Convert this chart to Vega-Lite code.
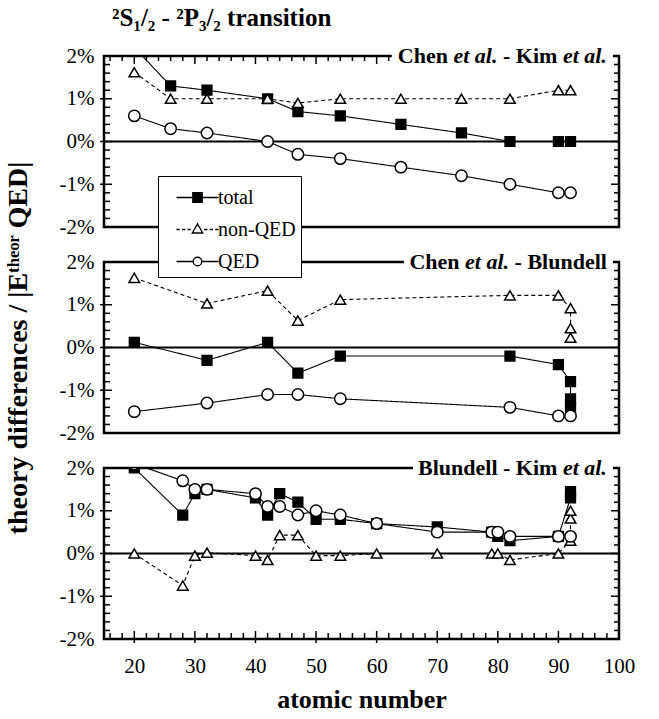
{
  "$schema": "https://vega.github.io/schema/vega-lite/v6.json",
  "background": "white",
  "padding": {"left": 2, "top": 4, "right": 5, "bottom": 5},
  "autosize": {"type": "pad"},
  "bounds": "flush",
  "spacing": 35,
  "config": {
    "view": {"stroke": "black", "strokeWidth": 2.5},
    "font": "Liberation Serif",
    "tick": {"opacity": 1, "color": "black", "thickness": 1.5},
    "rect": {"color": "white", "opacity": 1},
    "text": {"font": "Liberation Serif", "fontSize": 22, "fontWeight": "bold", "baseline": "middle", "align": "right", "color": "black"},
    "axis": {"domain": false, "grid": false, "ticks": false, "labelColor": "black", "labelFont": "Liberation Serif", "labelFontSize": 21, "titleFont": "Liberation Serif", "titleFontWeight": "bold", "titleColor": "black", "labelOverlap": false, "labelFlush": false, "labelBound": false}
  },
  "resolve": {"legend": {"shape": "independent"}},
  "datasets": {
    "ymin": [{"v":-1.8},{"v":-1.6},{"v":-1.4},{"v":-1.2},{"v":-0.8},{"v":-0.6},{"v":-0.4},{"v":-0.2},{"v":0.2},{"v":0.4},{"v":0.6},{"v":0.8},{"v":1.2},{"v":1.4},{"v":1.6},{"v":1.8}],
    "ymaj": [{"v":-1},{"v":0},{"v":1}],
    "xmin": [{"v":16},{"v":18},{"v":22},{"v":24},{"v":26},{"v":28},{"v":32},{"v":34},{"v":36},{"v":38},{"v":42},{"v":44},{"v":46},{"v":48},{"v":52},{"v":54},{"v":56},{"v":58},{"v":62},{"v":64},{"v":66},{"v":68},{"v":72},{"v":74},{"v":76},{"v":78},{"v":82},{"v":84},{"v":86},{"v":88},{"v":92},{"v":94},{"v":96},{"v":98}],
    "xmaj": [{"v":20},{"v":30},{"v":40},{"v":50},{"v":60},{"v":70},{"v":80},{"v":90}],
    "d": [
      {"p":1,"s":"total","z":20,"v":2.2,"i":1},{"p":1,"s":"total","z":26,"v":1.3,"i":2},{"p":1,"s":"total","z":32,"v":1.2,"i":3},{"p":1,"s":"total","z":42,"v":1.0,"i":4},{"p":1,"s":"total","z":47,"v":0.7,"i":5},{"p":1,"s":"total","z":54,"v":0.6,"i":6},{"p":1,"s":"total","z":64,"v":0.4,"i":7},{"p":1,"s":"total","z":74,"v":0.2,"i":8},{"p":1,"s":"total","z":82,"v":0.0,"i":9},{"p":1,"s":"total","z":90,"v":0.0,"i":10},{"p":1,"s":"total","z":92,"v":0.0,"i":11},
      {"p":1,"s":"non-QED","z":20,"v":1.62,"i":1},{"p":1,"s":"non-QED","z":26,"v":1.0,"i":2},{"p":1,"s":"non-QED","z":32,"v":1.0,"i":3},{"p":1,"s":"non-QED","z":42,"v":1.0,"i":4},{"p":1,"s":"non-QED","z":47,"v":0.9,"i":5},{"p":1,"s":"non-QED","z":54,"v":1.0,"i":6},{"p":1,"s":"non-QED","z":64,"v":1.0,"i":7},{"p":1,"s":"non-QED","z":74,"v":1.0,"i":8},{"p":1,"s":"non-QED","z":82,"v":1.0,"i":9},{"p":1,"s":"non-QED","z":90,"v":1.2,"i":10},{"p":1,"s":"non-QED","z":92,"v":1.2,"i":11},
      {"p":1,"s":"QED","z":20,"v":0.6,"i":1},{"p":1,"s":"QED","z":26,"v":0.3,"i":2},{"p":1,"s":"QED","z":32,"v":0.2,"i":3},{"p":1,"s":"QED","z":42,"v":0.0,"i":4},{"p":1,"s":"QED","z":47,"v":-0.3,"i":5},{"p":1,"s":"QED","z":54,"v":-0.4,"i":6},{"p":1,"s":"QED","z":64,"v":-0.6,"i":7},{"p":1,"s":"QED","z":74,"v":-0.8,"i":8},{"p":1,"s":"QED","z":82,"v":-1.0,"i":9},{"p":1,"s":"QED","z":90,"v":-1.2,"i":10},{"p":1,"s":"QED","z":92,"v":-1.2,"i":11},

      {"p":2,"s":"total","z":20,"v":0.12,"i":1},{"p":2,"s":"total","z":32,"v":-0.3,"i":2},{"p":2,"s":"total","z":42,"v":0.12,"i":3},{"p":2,"s":"total","z":47,"v":-0.6,"i":4},{"p":2,"s":"total","z":54,"v":-0.2,"i":5},{"p":2,"s":"total","z":82,"v":-0.2,"i":6},{"p":2,"s":"total","z":90,"v":-0.4,"i":7},{"p":2,"s":"total","z":92,"v":-0.8,"i":8},{"p":2,"s":"total","z":92,"v":-1.2,"i":9},{"p":2,"s":"total","z":92,"v":-1.4,"i":10},
      {"p":2,"s":"non-QED","z":20,"v":1.63,"i":1},{"p":2,"s":"non-QED","z":32,"v":1.03,"i":2},{"p":2,"s":"non-QED","z":42,"v":1.33,"i":3},{"p":2,"s":"non-QED","z":47,"v":0.63,"i":4},{"p":2,"s":"non-QED","z":54,"v":1.12,"i":5},{"p":2,"s":"non-QED","z":82,"v":1.22,"i":6},{"p":2,"s":"non-QED","z":90,"v":1.22,"i":7},{"p":2,"s":"non-QED","z":92,"v":0.92,"i":8},{"p":2,"s":"non-QED","z":92,"v":0.45,"i":9},{"p":2,"s":"non-QED","z":92,"v":0.23,"i":10},
      {"p":2,"s":"QED","z":20,"v":-1.5,"i":1},{"p":2,"s":"QED","z":32,"v":-1.3,"i":2},{"p":2,"s":"QED","z":42,"v":-1.1,"i":3},{"p":2,"s":"QED","z":47,"v":-1.1,"i":4},{"p":2,"s":"QED","z":54,"v":-1.2,"i":5},{"p":2,"s":"QED","z":82,"v":-1.4,"i":6},{"p":2,"s":"QED","z":90,"v":-1.6,"i":7},{"p":2,"s":"QED","z":92,"v":-1.6,"i":8},

      {"p":3,"s":"total","z":20,"v":2.0,"i":1},{"p":3,"s":"total","z":28,"v":0.9,"i":2},{"p":3,"s":"total","z":30,"v":1.4,"i":3},{"p":3,"s":"total","z":32,"v":1.5,"i":4},{"p":3,"s":"total","z":40,"v":1.3,"i":5},{"p":3,"s":"total","z":42,"v":0.9,"i":6},{"p":3,"s":"total","z":44,"v":1.4,"i":7},{"p":3,"s":"total","z":47,"v":1.2,"i":8},{"p":3,"s":"total","z":50,"v":0.8,"i":9},{"p":3,"s":"total","z":54,"v":0.8,"i":10},{"p":3,"s":"total","z":60,"v":0.7,"i":11},{"p":3,"s":"total","z":70,"v":0.62,"i":12},{"p":3,"s":"total","z":79,"v":0.5,"i":13},{"p":3,"s":"total","z":80,"v":0.4,"i":14},{"p":3,"s":"total","z":82,"v":0.3,"i":15},{"p":3,"s":"total","z":90,"v":0.4,"i":16},{"p":3,"s":"total","z":92,"v":1.3,"i":17},{"p":3,"s":"total","z":92,"v":1.45,"i":18},
      {"p":3,"s":"non-QED","z":20,"v":0.0,"i":1},{"p":3,"s":"non-QED","z":28,"v":-0.75,"i":2},{"p":3,"s":"non-QED","z":30,"v":-0.05,"i":3},{"p":3,"s":"non-QED","z":32,"v":0.02,"i":4},{"p":3,"s":"non-QED","z":40,"v":-0.05,"i":5},{"p":3,"s":"non-QED","z":42,"v":-0.15,"i":6},{"p":3,"s":"non-QED","z":44,"v":0.43,"i":7},{"p":3,"s":"non-QED","z":47,"v":0.43,"i":8},{"p":3,"s":"non-QED","z":50,"v":-0.05,"i":9},{"p":3,"s":"non-QED","z":54,"v":-0.05,"i":10},{"p":3,"s":"non-QED","z":60,"v":0.0,"i":11},{"p":3,"s":"non-QED","z":70,"v":0.0,"i":12},{"p":3,"s":"non-QED","z":79,"v":0.0,"i":13},{"p":3,"s":"non-QED","z":80,"v":0.0,"i":14},{"p":3,"s":"non-QED","z":82,"v":-0.15,"i":15},{"p":3,"s":"non-QED","z":90,"v":0.0,"i":16},{"p":3,"s":"non-QED","z":92,"v":0.3,"i":17},{"p":3,"s":"non-QED","z":92,"v":0.82,"i":18},{"p":3,"s":"non-QED","z":92,"v":1.0,"i":19},
      {"p":3,"s":"QED","z":20,"v":2.1,"i":1},{"p":3,"s":"QED","z":28,"v":1.7,"i":2},{"p":3,"s":"QED","z":30,"v":1.5,"i":3},{"p":3,"s":"QED","z":32,"v":1.5,"i":4},{"p":3,"s":"QED","z":40,"v":1.4,"i":5},{"p":3,"s":"QED","z":42,"v":1.1,"i":6},{"p":3,"s":"QED","z":44,"v":1.1,"i":7},{"p":3,"s":"QED","z":47,"v":0.9,"i":8},{"p":3,"s":"QED","z":50,"v":1.0,"i":9},{"p":3,"s":"QED","z":54,"v":0.9,"i":10},{"p":3,"s":"QED","z":60,"v":0.7,"i":11},{"p":3,"s":"QED","z":70,"v":0.5,"i":12},{"p":3,"s":"QED","z":79,"v":0.5,"i":13},{"p":3,"s":"QED","z":80,"v":0.5,"i":14},{"p":3,"s":"QED","z":82,"v":0.4,"i":15},{"p":3,"s":"QED","z":90,"v":0.4,"i":16},{"p":3,"s":"QED","z":92,"v":0.4,"i":17}
    ]
  },
  "vconcat": [
    {
      "width": 515, "height": 171,
      "title": {"text": "²S₁/₂ - ²P₃/₂ transition", "anchor": "start", "frame": "group", "font": "Liberation Serif", "fontSize": 25, "fontWeight": "bold", "color": "black", "offset": 14, "dx": 8},
      "layer": [
        {"data": {"values": [{"r": 0}]}, "mark": {"type": "rule", "color": "black", "strokeWidth": 2.2}, "encoding": {"y": {"field": "r", "type": "quantitative", "axis": null}}},
        {"data": {"name": "ymin"}, "mark": {"type": "tick", "orient": "horizontal", "size": 6, "xOffset": 3}, "encoding": {"x": {"datum": 15, "type": "quantitative", "axis": null}, "y": {"field": "v", "type": "quantitative", "axis": null}}},
        {"data": {"name": "ymaj"}, "mark": {"type": "tick", "orient": "horizontal", "size": 12, "xOffset": 2}, "encoding": {"x": {"datum": 15, "type": "quantitative", "axis": null}, "y": {"field": "v", "type": "quantitative", "axis": null}}},
        {"data": {"name": "ymin"}, "mark": {"type": "tick", "orient": "horizontal", "size": 5, "xOffset": -2.5}, "encoding": {"x": {"datum": 100, "type": "quantitative", "axis": null}, "y": {"field": "v", "type": "quantitative", "axis": null}}},
        {"data": {"name": "ymaj"}, "mark": {"type": "tick", "orient": "horizontal", "size": 8, "xOffset": -4}, "encoding": {"x": {"datum": 100, "type": "quantitative", "axis": null}, "y": {"field": "v", "type": "quantitative", "axis": null}}},
        {"data": {"name": "xmin"}, "mark": {"type": "tick", "orient": "vertical", "size": 5, "yOffset": 2.5}, "encoding": {"y": {"datum": 2, "type": "quantitative", "axis": null}, "x": {"field": "v", "type": "quantitative", "axis": null}}},
        {"data": {"name": "xmaj"}, "mark": {"type": "tick", "orient": "vertical", "size": 8, "yOffset": 4}, "encoding": {"y": {"datum": 2, "type": "quantitative", "axis": null}, "x": {"field": "v", "type": "quantitative", "axis": null}}},
        {
          "data": {"name": "d"},
          "transform": [{"filter": "datum.p === 1"}],
          "mark": {"type": "line", "color": "black", "strokeWidth": 1.1, "clip": true},
          "encoding": {
            "x": {"field": "z", "type": "quantitative", "scale": {"domain": [15, 100], "nice": false, "zero": false}, "axis": null},
            "y": {"field": "v", "type": "quantitative", "scale": {"domain": [-2, 2], "nice": false, "zero": false},
              "axis": {"orient": "left", "title": null, "values": [-2, -1, 0, 1, 2], "labelExpr": "datum.value + '%'", "labelPadding": 10}},
            "detail": {"field": "s", "type": "nominal"},
            "strokeDash": {"field": "s", "type": "nominal", "scale": {"domain": ["total", "non-QED", "QED"], "range": [[1, 0], [4, 3], [1, 0]]}, "legend": null},
            "order": {"field": "i", "type": "quantitative"}
          }
        },
        {
          "data": {"name": "d"},
          "transform": [{"filter": "datum.p === 1"}],
          "mark": {"type": "point", "filled": false, "stroke": "black", "strokeWidth": 1.5, "opacity": 1, "clip": true},
          "encoding": {
            "x": {"field": "z", "type": "quantitative", "axis": null},
            "y": {"field": "v", "type": "quantitative", "axis": null},
            "shape": {"field": "s", "type": "nominal", "scale": {"domain": ["total", "non-QED", "QED"], "range": ["square", "triangle-up", "circle"]}, "legend": null},
            "fill": {"field": "s", "type": "nominal", "scale": {"domain": ["total", "non-QED", "QED"], "range": ["black", "white", "white"]}, "legend": null},
            "size": {"field": "s", "type": "nominal", "scale": {"domain": ["total", "non-QED", "QED"], "range": [95, 130, 110]}, "legend": null}
          }
        },
        {"data": {"values": [{}]}, "mark": {"type": "rect"},
          "encoding": {"x": {"datum": 62.5, "type": "quantitative", "axis": null}, "x2": {"datum": 99}, "y": {"datum": 1.78, "type": "quantitative", "axis": null}, "y2": {"datum": 2.15}}},
        {"data": {"values": [{"t": "et al."}]}, "mark": {"type": "text", "fontStyle": "italic"},
          "encoding": {"text": {"field": "t"}, "x": {"datum": 98, "type": "quantitative", "axis": null}, "y": {"datum": 2, "type": "quantitative", "axis": null}}},
        {"data": {"values": [{"t": "- Kim"}]}, "mark": {"type": "text", "dx": -49.5},
          "encoding": {"text": {"field": "t"}, "x": {"datum": 98, "type": "quantitative", "axis": null}, "y": {"datum": 2, "type": "quantitative", "axis": null}}},
        {"data": {"values": [{"t": "et al."}]}, "mark": {"type": "text", "fontStyle": "italic", "dx": -109.4},
          "encoding": {"text": {"field": "t"}, "x": {"datum": 98, "type": "quantitative", "axis": null}, "y": {"datum": 2, "type": "quantitative", "axis": null}}},
        {"data": {"values": [{"t": "Chen"}]}, "mark": {"type": "text", "dx": -158.9},
          "encoding": {"text": {"field": "t"}, "x": {"datum": 98, "type": "quantitative", "axis": null}, "y": {"datum": 2, "type": "quantitative", "axis": null}}}
      ],
      "resolve": {"axis": {"x": "independent", "y": "independent"}}
    },
    {
      "width": 515, "height": 171,
      "layer": [
        {"data": {"values": [{"r": 0}]}, "mark": {"type": "rule", "color": "black", "strokeWidth": 2.2}, "encoding": {"y": {"field": "r", "type": "quantitative", "axis": null}}},
        {"data": {"name": "ymin"}, "mark": {"type": "tick", "orient": "horizontal", "size": 6, "xOffset": 3}, "encoding": {"x": {"datum": 15, "type": "quantitative", "axis": null}, "y": {"field": "v", "type": "quantitative", "axis": null}}},
        {"data": {"name": "ymaj"}, "mark": {"type": "tick", "orient": "horizontal", "size": 12, "xOffset": 2}, "encoding": {"x": {"datum": 15, "type": "quantitative", "axis": null}, "y": {"field": "v", "type": "quantitative", "axis": null}}},
        {"data": {"name": "ymin"}, "mark": {"type": "tick", "orient": "horizontal", "size": 5, "xOffset": -2.5}, "encoding": {"x": {"datum": 100, "type": "quantitative", "axis": null}, "y": {"field": "v", "type": "quantitative", "axis": null}}},
        {"data": {"name": "ymaj"}, "mark": {"type": "tick", "orient": "horizontal", "size": 8, "xOffset": -4}, "encoding": {"x": {"datum": 100, "type": "quantitative", "axis": null}, "y": {"field": "v", "type": "quantitative", "axis": null}}},
        {
          "data": {"name": "d"},
          "transform": [{"filter": "datum.p === 2"}],
          "mark": {"type": "line", "color": "black", "strokeWidth": 1.1, "clip": true},
          "encoding": {
            "x": {"field": "z", "type": "quantitative", "scale": {"domain": [15, 100], "nice": false, "zero": false}, "axis": null},
            "y": {"field": "v", "type": "quantitative", "scale": {"domain": [-2, 2], "nice": false, "zero": false},
              "axis": {"orient": "left", "title": "theory differences / |Eᵗʰᵉᵒʳ QED|", "titleFontSize": 28, "titlePadding": 27, "values": [-2, -1, 0, 1, 2], "labelExpr": "datum.value + '%'", "labelPadding": 10}},
            "detail": {"field": "s", "type": "nominal"},
            "strokeDash": {"field": "s", "type": "nominal", "scale": {"domain": ["total", "non-QED", "QED"], "range": [[1, 0], [4, 3], [1, 0]]}, "legend": null},
            "order": {"field": "i", "type": "quantitative"}
          }
        },
        {
          "data": {"name": "d"},
          "transform": [{"filter": "datum.p === 2"}],
          "mark": {"type": "point", "filled": false, "stroke": "black", "strokeWidth": 1.5, "opacity": 1, "clip": true},
          "encoding": {
            "x": {"field": "z", "type": "quantitative", "axis": null},
            "y": {"field": "v", "type": "quantitative", "axis": null},
            "shape": {"field": "s", "type": "nominal", "scale": {"domain": ["total", "non-QED", "QED"], "range": ["square", "triangle-up", "circle"]}, "legend": null},
            "fill": {"field": "s", "type": "nominal", "scale": {"domain": ["total", "non-QED", "QED"], "range": ["black", "white", "white"]}, "legend": null},
            "size": {"field": "s", "type": "nominal", "scale": {"domain": ["total", "non-QED", "QED"], "range": [95, 130, 110]}, "legend": null}
          }
        },
        {
          "data": {"name": "d"},
          "transform": [{"filter": "datum.p === 99"}],
          "mark": {"type": "point", "filled": false, "color": "black", "strokeWidth": 1.3},
          "encoding": {
            "x": {"field": "z", "type": "quantitative", "axis": null},
            "y": {"field": "v", "type": "quantitative", "axis": null},
            "shape": {"field": "s", "type": "nominal", "scale": {"domain": ["total", "non-QED", "QED"], "range": [
                "M-1.33,0H1.33M-0.3,-0.3H0.3V0.3H-0.3ZM-0.22,-0.22H0.22V0.22H-0.22ZM-0.14,-0.14H0.14V0.14H-0.14ZM-0.06,-0.06H0.06V0.06H-0.06Z",
                "M-1.33,0H-1.12M-0.98,0H-0.77M-0.63,0H-0.42M0.42,0H0.63M0.77,0H0.98M1.12,0H1.33M0,-0.36L0.33,0.22H-0.33Z",
                "M-1.33,0H-0.27M0.27,0H1.33M-0.27,0A0.27,0.27 0 1,0 0.27,0A0.27,0.27 0 1,0 -0.27,0Z"]},
              "legend": {"orient": "none", "legendX": 54, "legendY": -86, "title": null, "strokeColor": "black", "fillColor": "white", "padding": 5, "symbolSize": 1000, "symbolOffset": 18, "labelOffset": 4, "rowPadding": 5, "symbolStrokeColor": "black", "symbolFillColor": "white", "symbolStrokeWidth": 1.3, "symbolOpacity": 1, "labelFont": "Liberation Serif", "labelFontSize": 20, "labelColor": "black", "zindex": 5}}
          }
        },
        {"data": {"values": [{}]}, "mark": {"type": "rect"},
          "encoding": {"x": {"datum": 64.5, "type": "quantitative", "axis": null}, "x2": {"datum": 99}, "y": {"datum": 1.78, "type": "quantitative", "axis": null}, "y2": {"datum": 2.15}}},
        {"data": {"values": [{"t": "- Blundell"}]}, "mark": {"type": "text"},
          "encoding": {"text": {"field": "t"}, "x": {"datum": 98, "type": "quantitative", "axis": null}, "y": {"datum": 2, "type": "quantitative", "axis": null}}},
        {"data": {"values": [{"t": "et al."}]}, "mark": {"type": "text", "fontStyle": "italic", "dx": -97.8},
          "encoding": {"text": {"field": "t"}, "x": {"datum": 98, "type": "quantitative", "axis": null}, "y": {"datum": 2, "type": "quantitative", "axis": null}}},
        {"data": {"values": [{"t": "Chen"}]}, "mark": {"type": "text", "dx": -147.3},
          "encoding": {"text": {"field": "t"}, "x": {"datum": 98, "type": "quantitative", "axis": null}, "y": {"datum": 2, "type": "quantitative", "axis": null}}}
      ],
      "resolve": {"axis": {"x": "independent", "y": "independent"}, "scale": {"shape": "independent"}}
    },
    {
      "width": 515, "height": 171,
      "layer": [
        {"data": {"values": [{"r": 0}]}, "mark": {"type": "rule", "color": "black", "strokeWidth": 2.2}, "encoding": {"y": {"field": "r", "type": "quantitative", "axis": null}}},
        {"data": {"name": "ymin"}, "mark": {"type": "tick", "orient": "horizontal", "size": 6, "xOffset": 3}, "encoding": {"x": {"datum": 15, "type": "quantitative", "axis": null}, "y": {"field": "v", "type": "quantitative", "axis": null}}},
        {"data": {"name": "ymaj"}, "mark": {"type": "tick", "orient": "horizontal", "size": 12, "xOffset": 2}, "encoding": {"x": {"datum": 15, "type": "quantitative", "axis": null}, "y": {"field": "v", "type": "quantitative", "axis": null}}},
        {"data": {"name": "ymin"}, "mark": {"type": "tick", "orient": "horizontal", "size": 5, "xOffset": -2.5}, "encoding": {"x": {"datum": 100, "type": "quantitative", "axis": null}, "y": {"field": "v", "type": "quantitative", "axis": null}}},
        {"data": {"name": "ymaj"}, "mark": {"type": "tick", "orient": "horizontal", "size": 8, "xOffset": -4}, "encoding": {"x": {"datum": 100, "type": "quantitative", "axis": null}, "y": {"field": "v", "type": "quantitative", "axis": null}}},
        {"data": {"name": "xmin"}, "mark": {"type": "tick", "orient": "vertical", "size": 6, "yOffset": -3}, "encoding": {"y": {"datum": -2, "type": "quantitative", "axis": null}, "x": {"field": "v", "type": "quantitative", "axis": null}}},
        {"data": {"name": "xmaj"}, "mark": {"type": "tick", "orient": "vertical", "size": 12, "yOffset": -2}, "encoding": {"y": {"datum": -2, "type": "quantitative", "axis": null}, "x": {"field": "v", "type": "quantitative", "axis": null}}},
        {
          "data": {"name": "d"},
          "transform": [{"filter": "datum.p === 3"}],
          "mark": {"type": "line", "color": "black", "strokeWidth": 1.1, "clip": true},
          "encoding": {
            "x": {"field": "z", "type": "quantitative", "scale": {"domain": [15, 100], "nice": false, "zero": false},
              "axis": {"orient": "bottom", "title": "atomic number", "titleFontSize": 26, "titlePadding": 10, "values": [20, 30, 40, 50, 60, 70, 80, 90, 100], "labelPadding": 16}},
            "y": {"field": "v", "type": "quantitative", "scale": {"domain": [-2, 2], "nice": false, "zero": false},
              "axis": {"orient": "left", "title": null, "values": [-2, -1, 0, 1, 2], "labelExpr": "datum.value + '%'", "labelPadding": 10}},
            "detail": {"field": "s", "type": "nominal"},
            "strokeDash": {"field": "s", "type": "nominal", "scale": {"domain": ["total", "non-QED", "QED"], "range": [[1, 0], [4, 3], [1, 0]]}, "legend": null},
            "order": {"field": "i", "type": "quantitative"}
          }
        },
        {
          "data": {"name": "d"},
          "transform": [{"filter": "datum.p === 3"}],
          "mark": {"type": "point", "filled": false, "stroke": "black", "strokeWidth": 1.5, "opacity": 1, "clip": true},
          "encoding": {
            "x": {"field": "z", "type": "quantitative", "axis": null},
            "y": {"field": "v", "type": "quantitative", "axis": null},
            "shape": {"field": "s", "type": "nominal", "scale": {"domain": ["total", "non-QED", "QED"], "range": ["square", "triangle-up", "circle"]}, "legend": null},
            "fill": {"field": "s", "type": "nominal", "scale": {"domain": ["total", "non-QED", "QED"], "range": ["black", "white", "white"]}, "legend": null},
            "size": {"field": "s", "type": "nominal", "scale": {"domain": ["total", "non-QED", "QED"], "range": [95, 130, 110]}, "legend": null}
          }
        },
        {"data": {"values": [{}]}, "mark": {"type": "rect"},
          "encoding": {"x": {"datum": 66, "type": "quantitative", "axis": null}, "x2": {"datum": 99}, "y": {"datum": 1.78, "type": "quantitative", "axis": null}, "y2": {"datum": 2.15}}},
        {"data": {"values": [{"t": "et al."}]}, "mark": {"type": "text", "fontStyle": "italic"},
          "encoding": {"text": {"field": "t"}, "x": {"datum": 98, "type": "quantitative", "axis": null}, "y": {"datum": 2, "type": "quantitative", "axis": null}}},
        {"data": {"values": [{"t": "Blundell - Kim"}]}, "mark": {"type": "text", "dx": -49.5},
          "encoding": {"text": {"field": "t"}, "x": {"datum": 98, "type": "quantitative", "axis": null}, "y": {"datum": 2, "type": "quantitative", "axis": null}}}
      ],
      "resolve": {"axis": {"x": "independent", "y": "independent"}}
    }
  ]
}
